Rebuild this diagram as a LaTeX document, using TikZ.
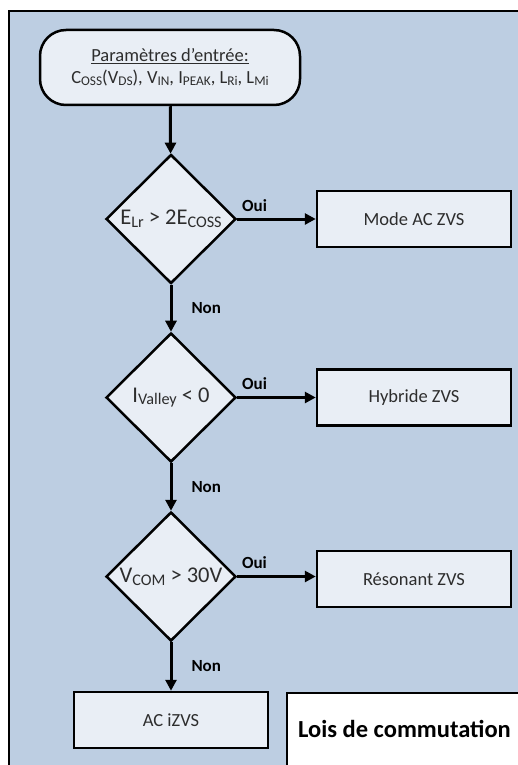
\documentclass[tikz,border=0pt]{standalone}
\usepackage{fontspec}
\setmainfont{Carlito}
\usetikzlibrary{shapes.geometric,arrows.meta}
\makeatletter
\newdimen\sbsdim
\newcommand\sbs[1]{{\sbsdim=\f@size pt\relax\sbsdim=0.72\sbsdim\raisebox{-0.12em}{\fontsize{\strip@pt\sbsdim}{0}\selectfont #1}}}
\makeatother
\definecolor{bgblue}{RGB}{189,206,226}
\definecolor{nodefill}{RGB}{233,238,245}
\definecolor{txt}{RGB}{45,45,45}
\begin{document}
\begin{tikzpicture}[x=1pt,y=-1pt,
  box/.style={draw, line width=2.5pt, fill=nodefill, text=txt, minimum width=194pt, minimum height=56pt, inner sep=0pt, font=\fontsize{18.5}{22}\selectfont},
  startbox/.style={draw, line width=2.5pt, fill=nodefill, text=txt, rounded corners=26pt, minimum width=260pt, minimum height=75pt, inner sep=0pt, align=center, font=\fontsize{18.5}{22}\selectfont},
  dia/.style={draw, diamond, line width=2.5pt, fill=nodefill, minimum width=130pt, minimum height=129pt, inner sep=0pt},
  dtext/.style={text=txt, font=\fontsize{22.5}{26}\selectfont, inner sep=0pt},
  conn/.style={line width=3pt, -{Triangle[length=11pt,width=11pt]}},
  lab/.style={font=\bfseries\fontsize{17}{20}\selectfont, inner sep=0pt}]
\useasboundingbox (0,0) rectangle (518,765);
\clip (0,0) rectangle (518,765);
% frame
\draw[line width=2.5pt, fill=bgblue] (9,11) rectangle (560,800);
% start
\node[startbox] (st) at (170,67.5) {\underline{Paramètres d’entrée:}\\C\sbs{OSS}(V\sbs{DS}), V\sbs{IN}, I\sbs{PEAK}, L\sbs{Ri}, L\sbs{Mi}};
% diamonds
\node[dia] (d1) at (171,219) {};
\node[dtext] (t1) at (d1) {E\sbs{Lr} > 2E\sbs{COSS}};
\node[dia] (d2) at (171,397.5) {};
\node[dtext] (t2) at (d2) {I\sbs{Valley} < 0};
\node[dia] (d3) at (171,576.5) {};
\node[dtext] (t3) at (d3) {V\sbs{COM} > 30V};
% boxes
\node[box] (b1) at (414,219) {Mode AC ZVS};
\node[box] (b2) at (414,397.5) {Hybride ZVS};
\node[box] (b3) at (414,579) {Résonant ZVS};
\node[box] (b4) at (171,720) {AC iZVS};
% title box
\draw[line width=2.5pt, fill=white] (287,693) rectangle (560,800);
\node[anchor=base west, inner sep=0pt, font=\bfseries\fontsize{24.5}{28}\selectfont] (title) at (298,737) {Lois de commutation};
% connectors
\draw[conn] (st) -- (d1);
\draw[conn] (d1) -- node[lab, pos=0.22, above=6pt] (o1) {Oui} (b1);
\draw[conn] (d1) -- node[lab, midway, right=19pt] (n1) {Non} (d2);
\draw[conn] (d2) -- node[lab, pos=0.22, above=6pt] (o2) {Oui} (b2);
\draw[conn] (d2) -- node[lab, midway, right=19pt] (n2) {Non} (d3);
\draw[conn] (d3.east) -- node[lab, pos=0.22, above=6pt] (o3) {Oui} (b3.west |- d3.east);
\draw[conn] (d3) -- node[lab, midway, right=19pt] (n3) {Non} (b4);
\end{tikzpicture}
\end{document}
